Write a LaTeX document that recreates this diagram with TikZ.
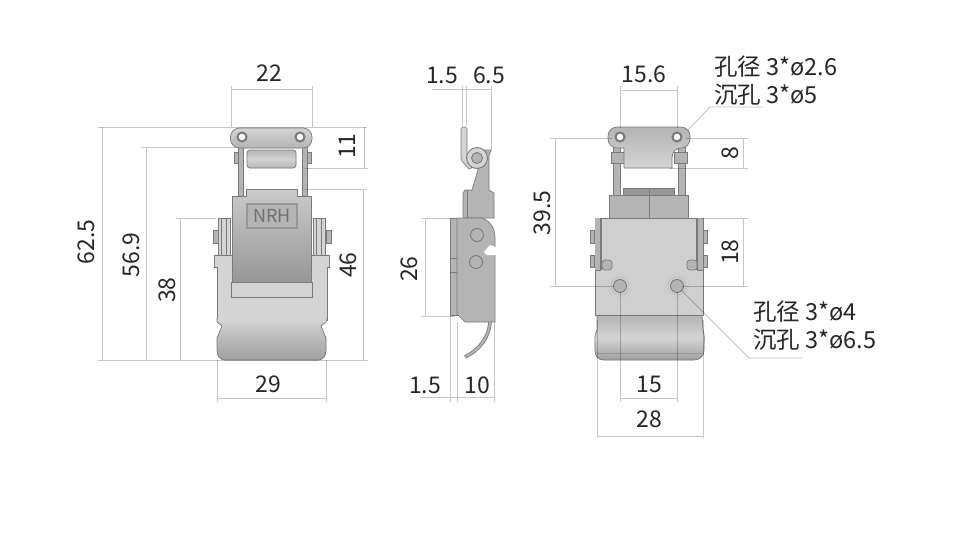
\documentclass[tikz,border=0pt]{standalone}
\usepackage{fontspec}
\setmainfont{Noto Sans CJK SC}
\usetikzlibrary{positioning}
\definecolor{dimgray}{HTML}{C6C6C6}
\definecolor{partedge}{HTML}{7A7A7A}
\definecolor{partlight}{HTML}{D4D4D4}
\definecolor{partmid}{HTML}{B4B4B4}
\definecolor{partdark}{HTML}{979797}
\tikzset{
    %Define style for dimension lines
    dimline/.style={
           draw=dimgray,
           blend mode=multiply,
           line width=0.9pt},
    %Define style for dimension texts
    dimtext/.style={
           text=black!85,
           inner sep=0pt,
           font=\fontsize{23}{27}\selectfont},
    dimvert/.style={
           dimtext,
           rotate=90},
    notetext/.style={
           dimtext,
           font=\fontsize{23.5}{27}\selectfont,
           anchor=west},
    % Define styles for the latch parts
    part/.style={
           draw=partedge,
           line width=0.7pt,
           fill=partmid},
    partface/.style={
           part,
           top color=partlight!70!partmid,
           bottom color=partdark},
    partcover/.style={
           part,
           top color=partlight,
           bottom color=partdark!70!partmid},
    rivet/.style={
           circle,
           draw=partedge,
           line width=0.9pt,
           fill=partmid,
           inner sep=0pt},
    hole/.style={
           circle,
           draw=partedge,
           line width=2pt,
           fill=white,
           inner sep=0pt,
           minimum size=9pt}
}

\begin{document}
\begin{tikzpicture}[x=1pt,y=-1pt]
\useasboundingbox[fill=white] (0,0) rectangle (960,558);

 %front view
\fill[part,fill=partlight] (214,255) -- (329,255) -- (329,267) -- (327,267) -- (327,320) -- (231,320) -- (217,320) -- (217,267) -- (214,267) -- cycle;
\fill[partcover] (217,318) -- (326,318) -- (326,322) -- (321,326) -- (326,338)
  -- (326,350) .. controls (326,356) and (323,360) .. (318,360) -- (225,360)
  .. controls (220,360) and (217,356) .. (217,350) -- (217,338) -- (222,326) -- (217,322) -- cycle;
\fill[partlight] (218,300) rectangle (326,322);
\foreach \sx in {218,313} {
  \fill[part,fill=partlight] (\sx,218) rectangle ++(12,37);
  \draw[partedge,line width=1pt] (\sx+3,218) -- (\sx+3,255) (\sx+8,218) -- (\sx+8,255);
}
\foreach \sx in {213,326} \fill[part] (\sx,230) rectangle ++(5,13);
\fill[part,fill=partlight] (231,282) rectangle (312,297);
\fill[part] (238,146) rectangle (243,197);
\fill[part] (302,146) rectangle (307,197);
\fill[part] (234,152) rectangle (238,163);
\fill[part] (307,152) rectangle (311,163);
\fill[part,rounded corners=3pt,top color=partmid,bottom color=partmid,middle color=partlight] (247,150) rectangle (296,168);
\fill[part,rounded corners=9pt,top color=partlight,bottom color=partmid] (230.5,128) rectangle (312,148);
\node[hole] (holeA) at (242,137) {};
\node[hole] (holeB) at (300,137) {};
\fill[partface] (246,189) -- (297,189) -- (297,196) -- (311,196) -- (311,282) -- (232,282) -- (232,196) -- (246,196) -- cycle;
\fill[partmid,draw=partdark,line width=1.5pt] (247,204) rectangle (297,228);
\node[text=partdark!75!black,inner sep=0pt,font=\fontsize{18}{18}\selectfont] (logo) at (272,216) {NRH};

 %side view
\fill[part,rounded corners=1.5pt,fill=partlight] (461,127) -- (467,127) -- (467,158) -- (473,165) -- (470,170) -- (461,160) -- cycle;
\fill[part] (478,170) -- (472,190) -- (465,190) -- (463,193) -- (463,218) -- (494,218) -- (494,193) -- (489,190) -- (489,156) -- (491,150) -- (477,150) -- cycle;
\draw[partedge] (467,190) -- (467,218);
\node[rivet,minimum size=21pt,fill=partlight] (pivot) at (477,158) {};
\node[rivet,minimum size=11pt] (pivotin) at (477,158) {};
\fill[part] (450,218) rectangle (457,315);
\draw[partedge] (450,258) -- (457,258) (450,272) -- (457,272);
\fill[part] (457,218) -- (482,218) .. controls (489,220) and (495,228) .. (495,237)
  -- (495,322) -- (465,322) -- (457,314) -- cycle;
\fill[white] (484,252) -- (490,245) -- (496,247) -- (496,255) -- (487,255) -- cycle;
\node[rivet,minimum size=13pt] (rivetA) at (477,235) {};
\node[rivet,minimum size=13pt] (rivetB) at (476,262) {};
\draw[partedge,line width=3.6pt] (490,322) .. controls (489,338) and (479,350) .. (465,357);
\draw[partmid,line width=2pt] (490,322) .. controls (489,338) and (479,350) .. (465,357);

 %rear view
\fill[part,top color=partmid,bottom color=partdark!70!partmid,middle color=partlight] (597,315) -- (702,315) -- (703,330) .. controls (705,335) and (704,340) .. (704,350) .. controls (704,356) and (700,360) .. (694,360)
  -- (604,360) .. controls (598,360) and (595,356) .. (595,350) .. controls (595,340) and (594,335) .. (597,330) -- cycle;
\draw[partdark] (597,353) -- (702,353);
\fill[part] (613,146) rectangle (620,197);
\fill[part] (678,146) rectangle (685,197);
\fill[part] (611,152) rectangle (624,163);
\fill[part] (674,152) rectangle (687,163);
\fill[part,top color=partmid,bottom color=partlight,rounded corners=9pt] (608,127) -- (690,127) -- (690,148) -- (672,148) [sharp corners] -- (672,168) -- (624,168) -- (624,148) [rounded corners=9pt] -- (608,148) -- cycle;
\node[hole] (holeC) at (620,137) {};
\node[hole] (holeD) at (677,137) {};
\fill[part,fill=partdark] (623,188) rectangle (674,196);
\fill[part] (609,195) rectangle (688,218);
\draw[partedge,line width=1pt] (649,188) -- (649,218);
\foreach \sx in {590,703} {
  \fill[part] (\sx,230) rectangle ++(4,13);
  \fill[part] (\sx,255) rectangle ++(4,12);
}
\fill[part,fill=partlight!85!partmid] (595,218) rectangle (703,315);
\fill[partmid] (595.4,218.4) rectangle (601,270);
\fill[partmid] (697,218.4) rectangle (702.6,270);
\draw[partedge,line width=1.2pt] (601,218) -- (601,270) (697,218) -- (697,270);
\draw[partedge] (595,270) -- (601,270) (697,270) -- (703,270);
\fill[part,rounded corners=3pt] (602,260) rectangle (612,270);
\fill[part,rounded corners=3pt] (687,260) rectangle (697,270);
\foreach \hx/\hname in {620/holeE,677/holeF} {
  \node[rivet,minimum size=13pt] (\hname) at (\hx,286) {};
  \draw[partmid,line width=0.6pt] (\hx,286) circle (9);
  \draw[dimgray,line width=0.7pt,densely dotted] (\hx,286) circle (12);
}

 %dimensions of front view
\draw[dimline] (98,127) -- (367,127) (98,360) -- (368,360);
\draw[dimline] (231,86) -- (231,127) (312,86) -- (312,127) (231,89) -- (312,89);
\draw[dimline] (102,127) -- (102,360);
\draw[dimline] (141,147) -- (235,147) (146,147) -- (146,360);
\draw[dimline] (176,218) -- (216,218) (180,218) -- (180,360);
\draw[dimline] (305,168) -- (368,168) (364,127) -- (364,168);
\draw[dimline] (305,189) -- (367,189) (363,189) -- (363,360);
\draw[dimline] (217,360) -- (217,402) (326,360) -- (326,402) (217,398) -- (326,398);
\node[dimtext] (d22) at (269,73) {22};
\node[dimvert] (d625) at (86,242) {62.5};
\node[dimvert] (d569) at (131,255) {56.9};
\node[dimvert] (d38) at (167,290) {38};
\node[dimvert] (d11) at (347,146) {11};
\node[dimvert] (d46) at (348,265) {46};
\node[dimtext] (d29) at (268,384) {29};

 %dimensions of side view
\draw[dimline] (432,89) -- (491,89) (462,86) -- (462,125) (466,86) -- (466,125) (491,86) -- (491,150);
\draw[dimline] (421,218) -- (450,218) (421,316) -- (455,316) (425,218) -- (425,316);
\draw[dimline] (420,397) -- (494,397) (450,316) -- (450,402) (457,322) -- (457,402) (494,322) -- (494,402);
\node[dimtext] (d15a) at (442,75) {1.5};
\node[dimtext] (d65) at (489,75) {6.5};
\node[dimvert] (d26) at (409,269) {26};
\node[dimtext] (d15b) at (425,385) {1.5};
\node[dimtext] (d10) at (477,385) {10};

 %dimensions of rear view
\draw[dimline] (620,86) -- (620,128) (677,86) -- (677,128) (620,90) -- (677,90);
\draw[dimline] (550,138) -- (612,138) (550,286) -- (614,286) (555,138) -- (555,286);
\draw[dimline] (686,138) -- (748,138) (670,168) -- (748,168) (743,138) -- (743,168);
\draw[dimline] (700,218) -- (748,218) (682,286) -- (748,286) (743,218) -- (743,286);
\draw[dimline] (620,292) -- (620,402) (677,292) -- (677,402) (620,398) -- (677,398);
\draw[dimline] (597,320) -- (597,438) (703,320) -- (703,438) (597,436) -- (703,436);
\node[dimtext] (d156) at (644,74) {15.6};
\node[dimvert] (d395) at (542,213) {39.5};
\node[dimvert] (d8) at (730,153) {8};
\node[dimvert] (d18) at (730,252) {18};
\node[dimtext] (d15) at (649,384) {15};
\node[dimtext] (d28) at (649,419) {28};

 %notes
\node[notetext] (noteA) at (714,67) {孔径 3*ø2.6};
\node[notetext] (noteB) at (714,95) {沉孔 3*ø5};
\node[notetext] (noteC) at (753,312) {孔径 3*ø4};
\node[notetext] (noteD) at (753,340) {沉孔 3*ø6.5};
\coordinate (tipA) at (688,130);
\coordinate (bendA) at (710,107);
\coordinate (endA) at (763,107);
\coordinate (tipB) at (681,290);
\coordinate (bendB) at (749,358);
\coordinate (endB) at (802,358);
\draw[dimline] (endA) -- (bendA) -- (tipA);
\draw[dimline] (endB) -- (bendB) -- (tipB);
\end{tikzpicture}
\end{document}
